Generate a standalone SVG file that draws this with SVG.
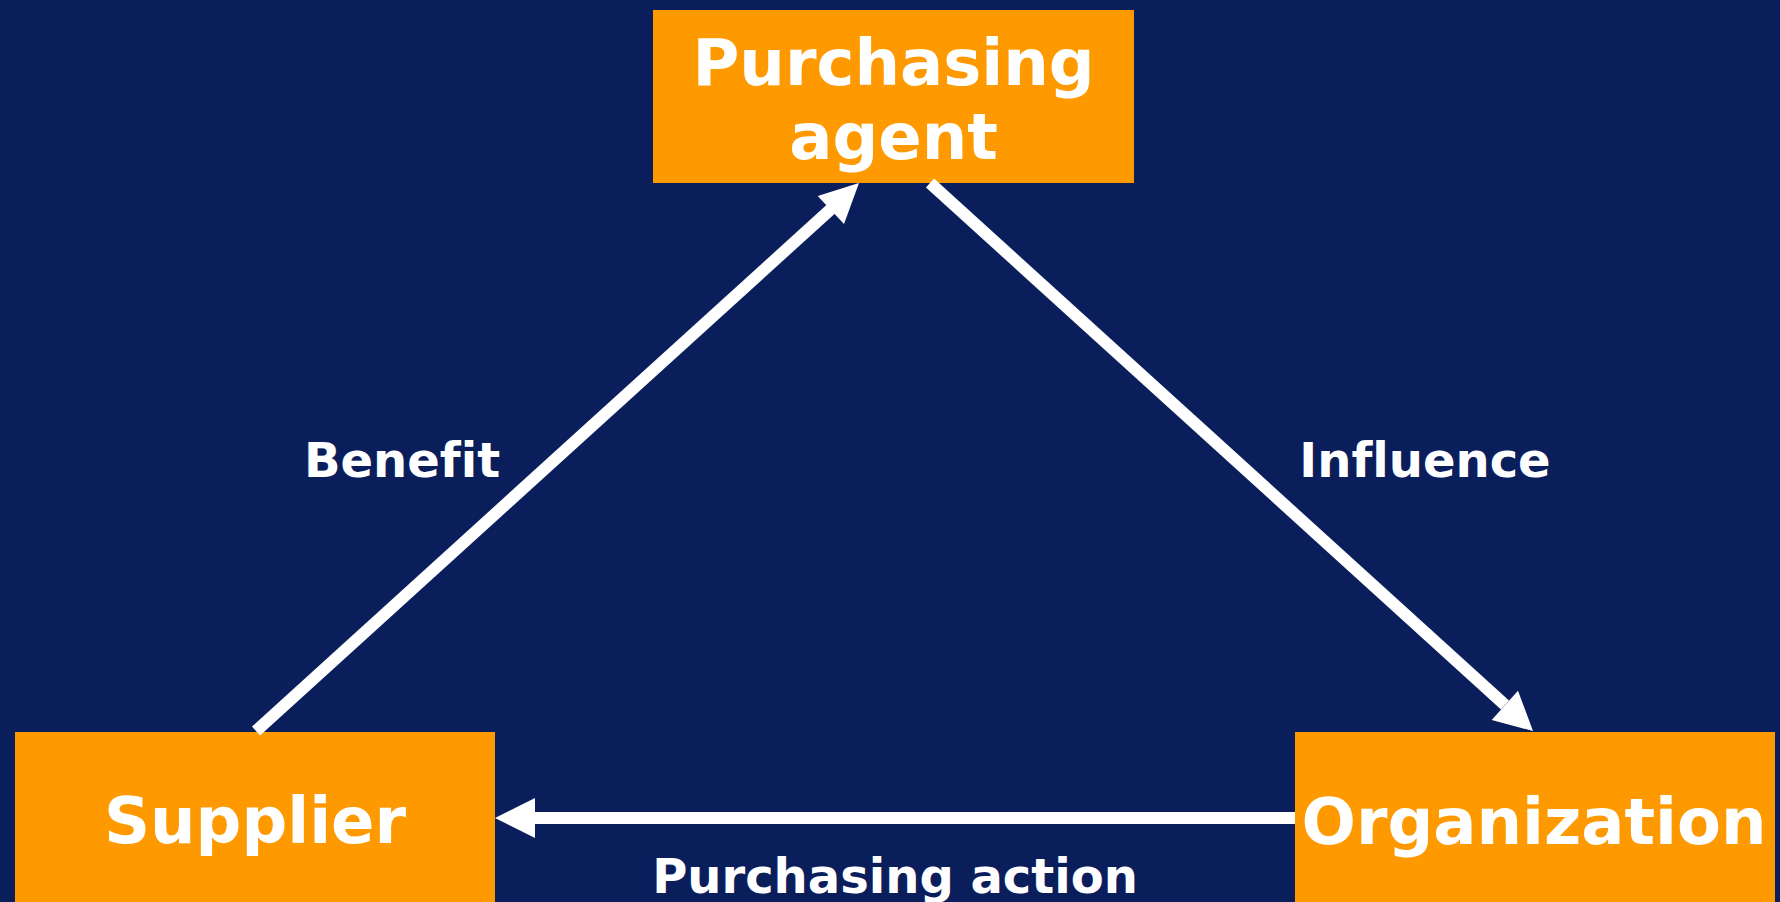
<svg xmlns="http://www.w3.org/2000/svg" width="1780" height="902" viewBox="0 0 1780 902">
  <defs>
    <style>
      .box { fill: #ff9900; }
      text { font-family: "DejaVu Sans", Verdana, sans-serif; font-weight: bold; fill: #ffffff; text-anchor: middle; font-variant-ligatures: none; }
      .title { font-size: 64px; }
      .label { font-size: 48px; }
      .link { stroke: #ffffff; stroke-width: 12; fill: none; }
      .head { fill: #ffffff; }
    </style>
  </defs>
  <rect x="0" y="0" width="1780" height="902" fill="#0b1e5c"/>

  <g id="purchasing-agent">
    <rect class="box" x="653" y="10" width="481" height="173"/>
    <text class="title" x="893.5" y="85">Purchasing</text>
    <text class="title" x="893.5" y="159">agent</text>
  </g>

  <g id="supplier">
    <rect class="box" x="15" y="732" width="480" height="175"/>
    <text class="title" x="255" y="843">Supplier</text>
  </g>

  <g id="organization">
    <rect class="box" x="1295" y="732" width="480" height="175"/>
    <text class="title" x="1534" y="844">Organization</text>
  </g>

  <g id="connectors">
    <!-- Supplier to Purchasing agent -->
    <line class="link" x1="256" y1="731" x2="831" y2="209"/>
    <polygon class="head" points="859,183 817.7,196 844,224"/>
    <!-- Purchasing agent to Organization -->
    <line class="link" x1="930" y1="183" x2="1505" y2="705"/>
    <polygon class="head" points="1533,731 1518,690.7 1491.7,720"/>
    <!-- Organization to Supplier -->
    <line class="link" x1="1295" y1="818" x2="534" y2="818"/>
    <polygon class="head" points="495,818 535,798 535,838"/>
  </g>

  <g id="labels">
    <text class="label" x="402" y="477">Benefit</text>
    <text class="label" x="1425" y="477">Influence</text>
    <text class="label" x="895" y="893">Purchasing action</text>
  </g>
</svg>
